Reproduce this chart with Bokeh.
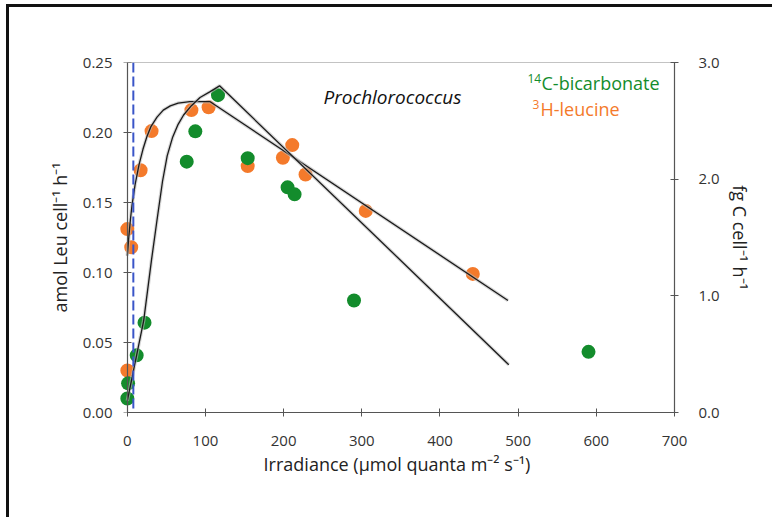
from bokeh.plotting import figure
from bokeh.models import (Range1d, LinearAxis, FixedTicker, NumeralTickFormatter, Span, Label,
                          CustomJSTickFormatter)
from bokeh.embed import file_html
from bokeh.resources import INLINE

# ---- data ----
leu_x = [0, 5, 17, 31, 82, 104, 154, 199, 211, 228, 305, 442, 0]
leu_y = [0.131, 0.118, 0.173, 0.201, 0.216, 0.218, 0.176, 0.182, 0.191, 0.170, 0.144, 0.099, 0.030]

bic_x = [0, 1, 12, 22, 76, 87, 116, 154, 205, 214, 290, 590]
bic_y = [0.12, 0.25, 0.49, 0.77, 2.15, 2.41, 2.72, 2.18, 1.93, 1.87, 0.96, 0.52]  # fg C cell-1 h-1

# fitted curves
leu_fit_x = [0, 2, 4, 6, 10, 15, 20, 25, 30, 38, 46, 55, 65, 80, 106, 487]
leu_fit_y = [0.112, 0.126, 0.138, 0.148, 0.163, 0.177, 0.188, 0.197, 0.204, 0.211, 0.216,
             0.219, 0.221, 0.222, 0.222, 0.080]

bic_fit_x = [0, 21, 31, 38, 45, 51, 58, 65, 72, 82, 93, 106, 118, 488]
bic_fit_y = [0.10, 0.79, 1.31, 1.65, 1.98, 2.20, 2.36, 2.47, 2.55, 2.63, 2.70, 2.75, 2.80, 0.41]

par_line = 7.7

x_ticks = [0, 100, 200, 300, 400, 500, 600, 700]
left_ticks = [0.0, 0.05, 0.10, 0.15, 0.20, 0.25]
right_ticks = [0.0, 1.0, 2.0, 3.0]

ORANGE = "#F47A2B"
GREEN = "#138C2C"
FONT = "Open Sans"
TXT = "#333333"
AXC = "#555555"

W, H = 772, 517
FL, FR, FT, FB = 119, 674, 62, 412   # frame edges in page pixels (x padded left for markers)
p = figure(width=W, height=H, output_backend="svg", toolbar_location=None,
           x_range=Range1d(-10, x_ticks[-1]), y_range=Range1d(0, left_ticks[-1]),
           min_border_left=FL, min_border_right=W - FR,
           min_border_top=FT, min_border_bottom=H - FB)
p.extra_y_ranges = {"right": Range1d(right_ticks[0], right_ticks[-1])}

p.xgrid.visible = False
p.ygrid.visible = False
p.outline_line_color = None
p.border_fill_alpha = 0
p.background_fill_color = "white"
p.styles = {"box-shadow": "inset 6px 4px 0 0 white, inset 9px 7px 0 0 #111111",
            "background-color": "white"}

def style_axis(ax):
    ax.axis_line_color = AXC
    ax.axis_line_width = 1.2
    ax.major_tick_line_color = AXC
    ax.major_tick_in = 4
    ax.major_tick_out = 4
    ax.minor_tick_line_color = None
    ax.major_label_text_font = FONT
    ax.major_label_text_font_size = "15px"
    ax.major_label_text_color = TXT
    ax.axis_label_text_font = FONT
    ax.axis_label_text_font_size = "18px"
    ax.axis_label_text_font_style = "normal"
    ax.axis_label_text_color = "#222222"

xa = p.xaxis[0]
xa.ticker = FixedTicker(ticks=x_ticks)
xa.bounds = (x_ticks[0], x_ticks[-1])
xa.axis_label = "Irradiance (µmol quanta m⁻² s⁻¹)"
style_axis(xa)
xa.major_label_standoff = 19
xa.axis_label_standoff = 3

# left axis: labels only, at the frame edge
ya = p.yaxis[0]
ya.ticker = FixedTicker(ticks=left_ticks)
ya.formatter = NumeralTickFormatter(format="0.00")
ya.axis_label = "amol Leu cell⁻¹ h⁻¹"
style_axis(ya)
ya.axis_line_color = None
ya.major_tick_line_color = None
ya.major_tick_in = 0
ya.major_tick_out = 0
ya.major_label_standoff = 7
ya.axis_label_standoff = 8

# left axis line and ticks, placed at irradiance 0
yline = LinearAxis(ticker=FixedTicker(ticks=left_ticks), fixed_location=x_ticks[0],
                   formatter=CustomJSTickFormatter(code="return ''"))
style_axis(yline)
p.add_layout(yline, "left")

ra = LinearAxis(y_range_name="right", ticker=FixedTicker(ticks=right_ticks),
                formatter=NumeralTickFormatter(format="0.0"),
                axis_label="fg C cell⁻¹ h⁻¹")
style_axis(ra)
ra.major_label_standoff = 20
ra.axis_label_standoff = 5
p.add_layout(ra, "right")

# top frame line between the two vertical axes
p.line([x_ticks[0], x_ticks[-1]], [left_ticks[-1], left_ticks[-1]], line_color="#888888", line_width=1)

p.add_layout(Span(location=par_line, dimension="height", line_color="#3A55C8",
                  line_width=2, line_dash="10 4"))

p.scatter(leu_x, leu_y, size=14, color=ORANGE, line_color=None)
p.scatter(bic_x, bic_y, size=14, color=GREEN, line_color=None, y_range_name="right")

# shadowed fit lines
for xs, ys, rn in [(leu_fit_x, leu_fit_y, "default"), (bic_fit_x, bic_fit_y, "right")]:
    p.line(xs, ys, line_color="#BBBBBB", line_width=3.5, line_alpha=0.6, y_range_name=rn)
    p.line(xs, ys, line_color="#1A1A1A", line_width=1.3, y_range_name=rn)

def sx(px):
    return px - FL

def sy(py):
    return FB - py

p.add_layout(Label(x=sx(392), y=sy(96), x_units="screen", y_units="screen",
                   text="Prochlorococcus", text_font=FONT, text_font_size="19px",
                   text_font_style="italic", text_color="#111111",
                   text_align="center", text_baseline="middle"))

# coloured labels with superscript isotopes
def iso(x_sup, y_sup, x_main, y_mid, sup, main, color):
    p.add_layout(Label(x=sx(x_sup), y=sy(y_sup), x_units="screen", y_units="screen",
                       text=sup, text_font=FONT, text_font_size="12px", text_color=color,
                       text_align="left", text_baseline="middle"))
    p.add_layout(Label(x=sx(x_main), y=sy(y_mid), x_units="screen", y_units="screen",
                       text=main, text_font=FONT, text_font_size="18px", text_color=color,
                       text_align="left", text_baseline="middle"))

iso(527, 78, 541, 82.5, "14", "C-bicarbonate", GREEN)
iso(532, 104, 540, 108.5, "3", "H-leucine", ORANGE)

open("out.html", "w").write(file_html(p, INLINE))
